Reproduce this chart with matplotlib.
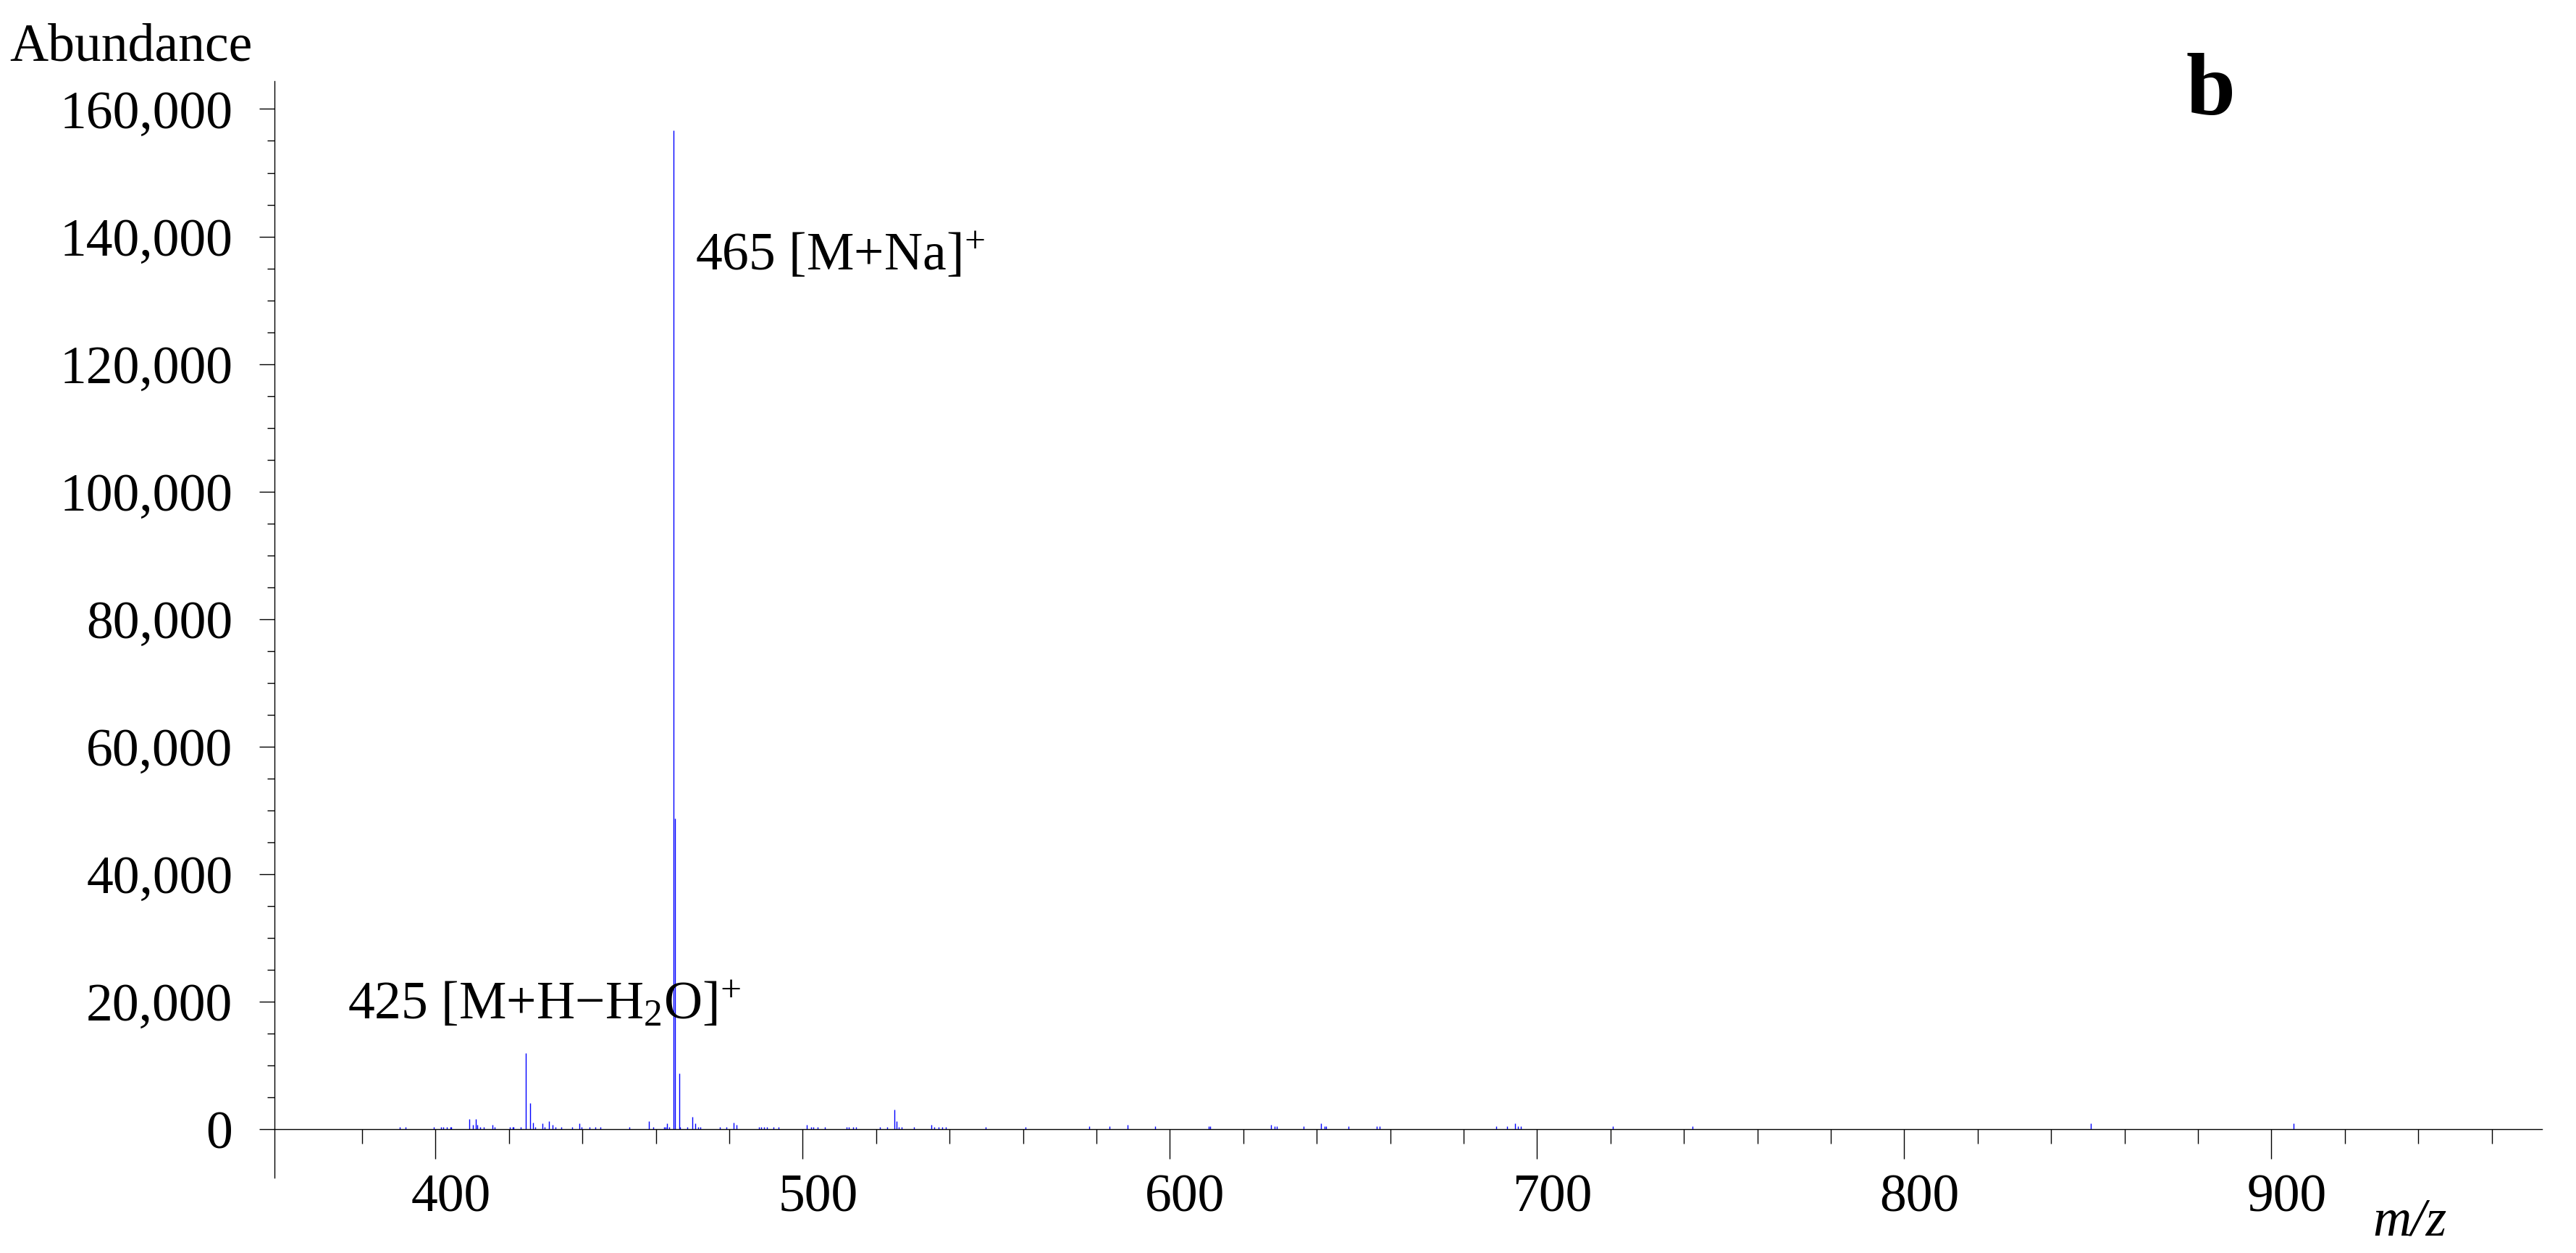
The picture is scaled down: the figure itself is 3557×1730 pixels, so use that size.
# mass spectrum, panel b
import matplotlib as mpl
mpl.use('Agg')
import matplotlib.pyplot as plt
from matplotlib.transforms import ScaledTranslation
from matplotlib.ticker import FuncFormatter, FixedLocator

# peaks (m/z, abundance)
mz = [390.3, 391.9, 399.6, 401.6, 402.2, 403.0, 404.0, 404.3, 409.3, 410.1,
      411.0, 411.4, 412.2, 413.2, 415.6, 416.2, 420.3, 421.1, 421.3, 423.3,
      424.65, 425.8, 426.6, 427.2, 429.2, 429.8, 431.0, 431.8, 432.6, 434.3,
      437.3, 439.1, 439.8, 442.0, 443.6, 445.0, 452.7, 458.2, 459.4, 462.3,
      462.7, 463.1, 463.7, 464.9, 465.3, 466.5, 466.7, 468.6, 470.0, 470.8,
      471.6, 472.2, 477.5, 479.3, 481.1, 481.9, 488.2, 488.6, 489.5, 490.3,
      492.1, 493.5, 501.2, 502.4, 502.8, 504.1, 506.1, 512.0, 512.6, 513.8,
      514.6, 521.1, 523.1, 524.9, 525.6, 526.2, 527.0, 530.4, 535.1, 535.9,
      537.1, 538.1, 538.9, 549.9, 560.6, 578.0, 583.5, 588.4, 596.0, 610.5,
      610.9, 627.5, 628.5, 629.2, 636.4, 641.1, 642.1, 642.5, 648.7, 656.4,
      657.1, 688.9, 691.9, 694.1, 694.9, 695.6, 720.7, 742.4, 850.9, 906.1]
abundance = [340, 340, 340, 340, 340, 340, 340, 340, 1590, 570,
             1590, 570, 340, 340, 570, 340, 340, 340, 340, 340,
             11900, 3980, 1020, 340, 800, 340, 1250, 570, 340, 340,
             340, 800, 340, 340, 340, 340, 340, 1250, 340, 340,
             340, 800, 340, 156600, 48700, 8750, 340, 340, 1820, 800,
             340, 340, 340, 340, 1020, 570, 340, 340, 340, 340,
             340, 340, 570, 340, 340, 340, 340, 340, 340, 340,
             340, 340, 340, 2960, 1250, 340, 340, 340, 570, 340,
             340, 340, 340, 340, 340, 380, 380, 600, 380, 380,
             380, 600, 380, 380, 380, 830, 380, 380, 380, 380,
             380, 380, 380, 830, 380, 380, 380, 380, 830, 830]

x_major = [400, 500, 600, 700, 800, 900]
x_minor = [v for v in range(380, 961, 20) if v % 100 != 0]
y_major = list(range(0, 160001, 20000))
y_minor = list(range(0, 160001, 5000))

plt.rcParams['font.family'] = 'Liberation Serif'
plt.rcParams['mathtext.fontset'] = 'custom'
plt.rcParams['mathtext.rm'] = 'Liberation Serif'
plt.rcParams['mathtext.it'] = 'Liberation Serif:italic'
plt.rcParams['mathtext.bf'] = 'Liberation Serif:bold'

fig = plt.figure(figsize=(35.57, 17.31), dpi=100)
ax = fig.add_axes([0.10655, 0.06008, 0.88024, 0.87464])

ax.vlines(mz, 0, abundance, colors='#0000ff', linewidth=1.0)

ax.set_xlim(356.15, 973.7)
ax.set_ylim(-7670, 164375)

for s in ['top', 'right']:
    ax.spines[s].set_visible(False)
ax.spines['bottom'].set_position(('data', 0))
ax.spines['bottom'].set_linewidth(1.0)
ax.spines['left'].set_linewidth(1.0)

ax.xaxis.set_major_locator(FixedLocator(x_major))
ax.xaxis.set_minor_locator(FixedLocator(x_minor))
ax.yaxis.set_major_locator(FixedLocator(y_major))
ax.yaxis.set_minor_locator(FixedLocator(y_minor))
ax.yaxis.set_major_formatter(FuncFormatter(lambda v, p: '{:,}'.format(int(v))))

ax.tick_params(axis='x', which='major', direction='out', length=29.5, width=1.0,
               pad=15, labelsize=53)
ax.tick_params(axis='x', which='minor', direction='out', length=14.4, width=1.0)
ax.tick_params(axis='y', which='major', direction='out', length=15, width=1.0,
               pad=26.5, labelsize=53)
ax.tick_params(axis='y', which='minor', direction='out', length=7.2, width=1.0)

# labels in the original sit a little right of their ticks
shift = ScaledTranslation(0.21, 0, fig.dpi_scale_trans)
for lab in ax.get_xticklabels():
    lab.set_transform(lab.get_transform() + shift)

fig.text(0.00365, 0.952, 'Abundance', fontsize=53, va='baseline', ha='left')
fig.text(0.9210, 0.015, 'm/z', fontsize=53, style='italic', va='baseline', ha='left')
fig.text(0.8485, 0.9087, 'b', fontsize=88, fontweight='bold', va='baseline', ha='left')

fig.text(960 / 3557, 0.7845, '465 [M+Na]$^{+}$', fontsize=53, va='baseline', ha='left')
fig.text(480 / 3557, 0.1872, '425 [M+H\u2212H$_{2}$O]$^{+}$', fontsize=53,
         va='baseline', ha='left')

fig.savefig('out.png', dpi=100)
